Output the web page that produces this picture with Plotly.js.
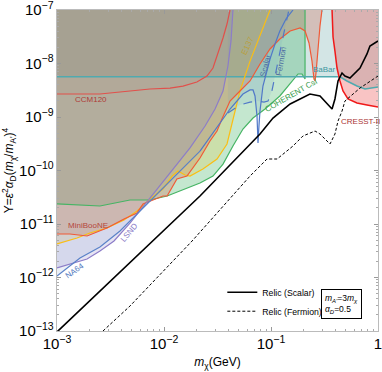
<!DOCTYPE html>
<html><head><meta charset="utf-8">
<script src="https://cdn.plot.ly/plotly-3.0.1.min.js"></script>
<style>html,body{margin:0;padding:0;background:#fff}#plot{width:382px;height:372px}</style>
</head><body><div id="plot"></div>
<script>
// ---- data ----
const babarX = [1e-3, 0.441, 0.513, 0.636, 0.756, 1];
const babarY = [5.66e-9, 5.66e-9, 4.71e-9, 3.79e-9, 3.34e-9, 3.64e-9];

const ccmX = [1e-3, 2.52e-3, 4.81e-3, 7.4e-3, 1.14e-2, 1.505e-2, 2.03e-2, 2.52e-2, 2.87e-2, 3.2e-2, 3.56e-2, 3.88e-2, 4.14e-2];
const ccmY = [2.69e-9, 2.69e-9, 3.06e-9, 3.34e-9, 3.48e-9, 3.79e-9, 4.51e-9, 5.83e-9, 8.24e-9, 1.51e-8, 3.0e-8, 5.47e-8, 1e-7];

const mbX = [1e-3,1.32e-3,1.91e-3,2.93e-3,4.23e-3,5.6e-3,6.37e-3,9.79e-3,1.07e-2,1.32e-2,1.64e-2,2.17e-2,2.69e-2,3.13e-2,3.48e-2,4.14e-2,5.13e-2,6.37e-2,7.89e-2,9.79e-2,0.121,0.151,0.187,0.208,0.2265,0.2416,0.2522,0.258,0.2634,0.275,0.287,0.2996];
const mbY = [6.5e-12,6.5e-12,5.97e-12,8.41e-12,1.24e-11,1.61e-11,2.37e-11,3.34e-11,3.34e-11,6.93e-11,7.88e-11,1.71e-10,3.56e-10,5.47e-10,9.18e-10,1.99e-9,3.06e-9,4.71e-9,9.8e-9,1.87e-8,2.87e-8,4.05e-8,4.61e-8,4.05e-8,2.42e-8,1.11e-8,5.13e-9,4.71e-9,6.64e-9,2.12e-8,5.02e-8,1e-7];

const e137X = [1e-3,1.54e-3,2.03e-3,2.93e-3,4.23e-3,5.6e-3,7.4e-3,9.79e-3,1.19e-2,1.35e-2,1.57e-2,1.75e-2,2.31e-2,3.13e-2,3.88e-2,4.41e-2,5.13e-2,6.37e-2,7.56e-2,8.79e-2,9.79e-2];
const e137Y = [4.23e-12,5.47e-12,6.79e-12,8.41e-12,1.19e-11,1.75e-11,2.93e-11,4.51e-11,7.88e-11,9.79e-11,8.24e-11,7.88e-11,1.07e-10,1.64e-10,3.13e-10,8.4e-10,3.06e-9,1.11e-8,2.64e-8,5.47e-8,1e-7];

const lsndX = [1e-3,1.44e-3,1.91e-3,2.52e-3,3.41e-3,4.81e-3,7.4e-3,1.14e-2,1.75e-2,2.42e-2,3.0e-2,3.56e-2,3.96e-2,4.23e-2,4.41e-2];
const lsndY = [1.51e-12,1.87e-12,2.22e-12,3.13e-12,4.81e-12,1.04e-11,3.06e-11,8.6e-11,2.64e-10,6.79e-10,1.41e-9,3.06e-9,8.97e-9,2.64e-8,1e-7];

const na64X = [1e-3,1.64e-3,2.52e-3,3.88e-3,5.97e-3,9.18e-3,1.41e-2,2.17e-2];
const na64Y = [1.07e-12,2.31e-12,3.72e-12,7.4e-12,1.75e-11,4.14e-11,9.79e-11,2.31e-10];

const scalarX = [2.17e-2,2.87e-2,4.14e-2,5.47e-2,6.37e-2,6.79e-2,7.09e-2,7.4e-2,7.56e-2,7.72e-2,7.89e-2,8.41e-2,9.18e-2,9.79e-2,0.109,0.121,0.138,0.1606];
const scalarY = [2.31e-10,5.02e-10,1.41e-9,2.69e-9,3.2e-9,3.2e-9,2.47e-9,1.04e-9,3.27e-10,6.79e-10,1.29e-9,3.79e-9,7.24e-9,1.21e-8,2.31e-8,4.05e-8,6.79e-8,1e-7];

const fermionX = [3.96e-2,5.13e-2,6.37e-2,7.56e-2,8.6e-2,9.38e-2,0.102,0.111,0.121,0.132,0.147];
const fermionY = [1.19e-9,1.68e-9,1.9e-9,1.99e-9,1.9e-9,1.99e-9,3.06e-9,7.24e-9,1.71e-8,3.72e-8,1e-7];

const cohX = [1e-3,2.52e-3,4.81e-3,7.4e-3,1.07e-2,1.64e-2,2.17e-2,2.87e-2,3.56e-2,4.41e-2,5.47e-2,6.79e-2,8.79e-2,0.121,0.157,0.179,0.195,0.208];
const cohY = [2.37e-11,2.17e-11,2.81e-11,2.81e-11,3.34e-11,4.71e-11,5.83e-11,7.88e-11,1.32e-10,2.87e-10,5.97e-10,9.57e-10,1.41e-9,2.47e-9,4.71e-9,6.37e-9,6.37e-9,5.13e-9];

const cresstX = [0.372,0.38,0.396,0.414,0.441,0.471,0.524,0.636,0.789,1];
const cresstY = [1e-7,3.13e-8,1.71e-8,8.24e-9,4.71e-9,3.06e-9,2.17e-9,1.83e-9,1.68e-9,1.54e-9];

const relicScalarX = [1e-3,4.81e-3,2.17e-2,7.89e-2,0.1044,0.151,0.231,0.287,0.334,0.372,0.396,0.423,0.461,0.491,0.547,0.679,0.789,0.841,1];
const relicScalarY = [9.6e-14,1.87e-12,3.33e-11,4.81e-10,9.57e-10,1.75e-9,2.69e-9,2.47e-9,1.75e-9,1.41e-9,2.17e-9,4.71e-9,6.64e-9,5.83e-9,5.36e-9,8.24e-9,1.51e-8,2.12e-8,2.64e-8];

const relicFermionX = [2.69e-3,4.81e-3,1.83e-2,6.37e-2,9.18e-2,0.114,0.1606,0.199,0.258,0.287,0.356,0.396,0.423,0.461,0.491,0.679,1];
const relicFermionY = [1e-13,2.93e-13,4.81e-12,7.88e-11,1.64e-10,1.64e-10,2.87e-10,4.42e-10,5.47e-10,4.81e-10,3.13e-10,4.81e-10,8.4e-10,1.29e-9,1.99e-9,3.48e-9,5.83e-9];

const XMIN = 1e-3, XMAX = 1, YTOP = 1e-7;

// ---- build traces ----
function above(xs, ys, extraX, extraY) {
  return {x: xs.concat(extraX), y: ys.concat(extraY)};
}
const traces = [];
function fillTrace(poly, color) {
  traces.push({x: poly.x, y: poly.y, type: 'scatter', mode: 'lines', fill: 'toself',
    fillcolor: color, line: {width: 0}, hoverinfo: 'skip', showlegend: false});
}
function lineTrace(xs, ys, color, width, dash) {
  traces.push({x: xs, y: ys, type: 'scatter', mode: 'lines',
    line: {color: color, width: width, dash: dash || 'solid'}, hoverinfo: 'skip', showlegend: false});
}

fillTrace(above(babarX, babarY, [XMAX, XMIN], [YTOP, YTOP]), 'rgba(80,150,150,0.25)');
fillTrace(above(cohX, cohY, [cohX[cohX.length-1], XMIN], [YTOP, YTOP]), 'rgba(60,175,95,0.3)');
fillTrace(above(mbX, mbY, [XMIN], [YTOP]), 'rgba(215,60,30,0.22)');
fillTrace(above(ccmX, ccmY, [XMIN], [YTOP]), 'rgba(190,60,60,0.05)');
fillTrace(above(e137X, e137Y, [XMIN], [YTOP]), 'rgba(235,195,30,0.2)');
fillTrace(above(lsndX, lsndY, [XMIN], [YTOP]), 'rgba(140,130,200,0.22)');
fillTrace(above(na64X.concat(scalarX), na64Y.concat(scalarY), [XMIN], [YTOP]), 'rgba(90,130,190,0.12)');
fillTrace(above(fermionX, fermionY, [fermionX[0]], [YTOP]), 'rgba(90,140,200,0.1)');
fillTrace(above(cresstX, cresstY, [XMAX], [YTOP]), 'rgba(235,60,60,0.3)');

lineTrace(cohX.concat([cohX[cohX.length-1]]), cohY.concat([YTOP]), 'rgb(70,180,100)', 1.2);
lineTrace(babarX, babarY, 'rgb(80,170,175)', 1.6);
lineTrace(ccmX, ccmY, 'rgb(225,80,75)', 1.2);
lineTrace(e137X, e137Y, 'rgb(250,190,20)', 1.2);
lineTrace(mbX, mbY, 'rgb(240,90,55)', 1.2);
lineTrace(lsndX, lsndY, 'rgb(140,125,200)', 1.2);
lineTrace(na64X, na64Y, 'rgb(90,130,200)', 1.2);
lineTrace(scalarX, scalarY, 'rgb(80,120,200)', 1.2);
lineTrace(fermionX, fermionY, 'rgb(80,120,200)', 1.2, 'dash');
lineTrace(cresstX, cresstY, 'rgb(240,25,25)', 1.5);

traces.push({x: relicScalarX, y: relicScalarY, type: 'scatter', mode: 'lines', name: 'Relic (Scalar)',
  line: {color: 'black', width: 1.6}, hoverinfo: 'skip'});
traces.push({x: relicFermionX, y: relicFermionY, type: 'scatter', mode: 'lines', name: 'Relic (Fermion)',
  line: {color: 'black', width: 1, dash: '3px,2px'}, hoverinfo: 'skip'});

const lab = (x, y, text, color, angle) => ({x: Math.log10(x), y: Math.log10(y), text: text, showarrow: false,
  font: {size: 8, color: color, family: 'Liberation Sans, Arial, sans-serif'}, textangle: angle || 0});

const layout = {
  width: 382, height: 372,
  margin: {l: 57, r: 4, t: 10, b: 41},
  paper_bgcolor: 'white', plot_bgcolor: 'white',
  font: {family: 'Liberation Sans, Arial, sans-serif', color: 'black', size: 12},
  xaxis: {type: 'log', range: [-3, 0], dtick: 1, exponentformat: 'power', ticklabeloverflow: 'allow',
    ticks: 'inside', ticklen: 4, tickcolor: '#999', showline: true, linecolor: '#bbb', mirror: 'allticks',
    showgrid: false, zeroline: false,
    minor: {ticks: 'inside', ticklen: 2, tickcolor: '#aaa', showgrid: false},
    title: {text: '<i>m</i><sub>χ</sub>(GeV)', font: {size: 12}, standoff: 6}},
  yaxis: {type: 'log', range: [-13, -7], dtick: 1, exponentformat: 'power', ticklabeloverflow: 'allow',
    ticks: 'inside', ticklen: 4, tickcolor: '#999', showline: true, linecolor: '#bbb', mirror: 'allticks',
    showgrid: false, zeroline: false,
    minor: {ticks: 'inside', ticklen: 2, tickcolor: '#aaa', showgrid: false},
    title: {text: 'Y=<i>ε</i><sup>2</sup><i>α</i><sub>D</sub>(<i>m</i><sub>χ</sub>/<i>m</i><sub>A\'</sub>)<sup>4</sup>', font: {size: 12}, standoff: 4}},
  showlegend: true,
  legend: {x: 0.515, y: 0.166, xanchor: 'left', yanchor: 'top', bgcolor: 'rgba(0,0,0,0)',
    font: {size: 8.7}, tracegroupgap: 0},
  annotations: [
    lab(2.1e-3, 2.1e-9, 'CCM120', 'rgb(175,60,55)'),
    lab(1.95e-3, 9.57e-12, 'MiniBooNE', 'rgb(180,70,60)'),
    lab(5.97e-2, 2.12e-8, 'E137', 'rgb(185,160,60)', -65),
    lab(4.71e-3, 7.07e-12, 'LSND', 'rgb(140,125,200)', -50),
    lab(1.47e-3, 1.38e-12, 'NA64', 'rgb(80,120,190)', -35),
    lab(8.79e-2, 8.97e-9, 'Scalar', 'rgb(80,110,160)', -75),
    lab(0.1237, 1.11e-8, 'Fermion', 'rgb(80,110,160)', -80),
    lab(0.3185, 7.57e-9, 'BaBar', 'rgb(60,150,160)'),
    lab(0.154, 2.47e-9, 'COHERENT CsI', 'rgb(60,160,80)', -30),
    lab(0.679, 8.07e-10, 'CRESST-II', 'rgb(170,50,50)'),
    {x: Math.log10(0.451), y: Math.log10(3.2e-13), showarrow: false, align: 'left',
     text: '<i>m<sub>A\'</sub></i>=3<i>m<sub>χ</sub></i><br><i>α<sub>D</sub></i>=0.5',
     font: {size: 8.5, color: 'black'}, bordercolor: 'black', borderwidth: 1, borderpad: 3, bgcolor: 'white'}
  ]
};

Plotly.newPlot('plot', traces, layout, {displayModeBar: false, staticPlot: true});
</script>
</body></html>
